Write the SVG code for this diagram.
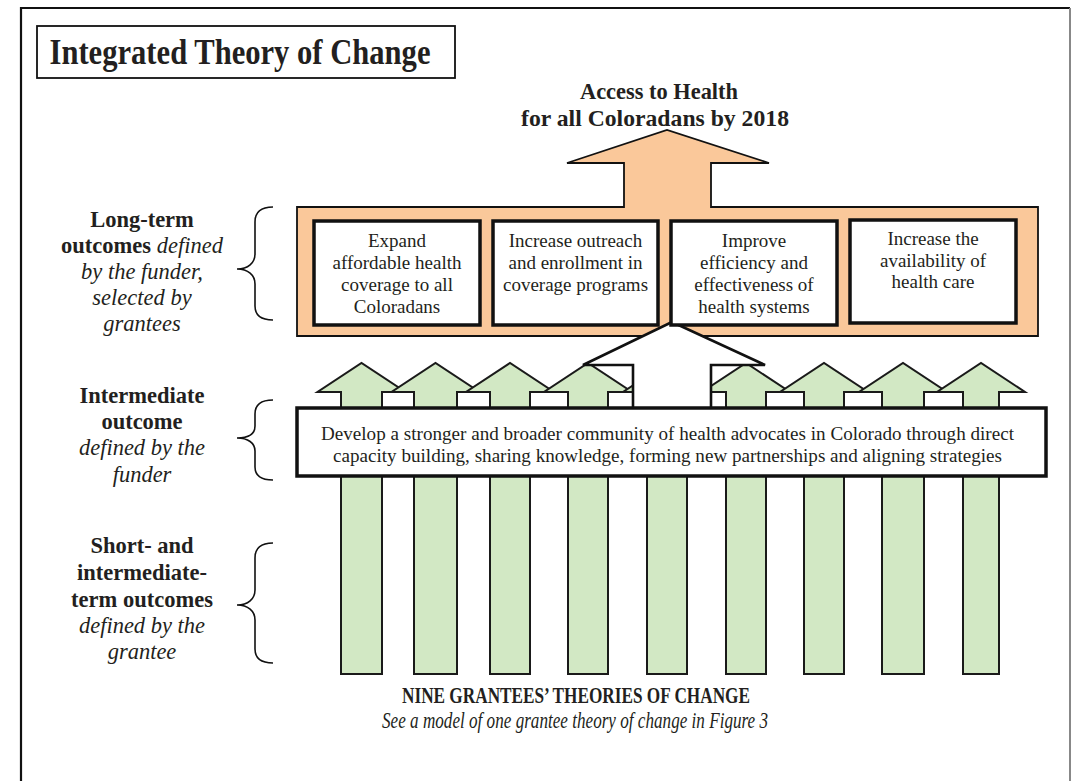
<svg xmlns="http://www.w3.org/2000/svg" width="1075" height="781" viewBox="0 0 1075 781">
<style>
text{font-family:"Liberation Serif","Times New Roman",serif;fill:#231f20}
.b{font-weight:bold}
.i{font-style:italic}
.lbl{font-size:22.5px;text-anchor:middle}
.bx{font-size:19px;text-anchor:middle}
.box{fill:#fff;stroke:#111;stroke-width:3.5}
.grn{fill:#d2e8c4;stroke:#1a1a1a;stroke-width:2}
.brace{fill:none;stroke:#111;stroke-width:1.6}
</style>
<rect x="0" y="0" width="1075" height="781" fill="#fff"/>
<g id="frame">
<path d="M21 781 L21 8 L1070 8" fill="none" stroke="#111" stroke-width="2.2"/>
<path d="M1070 8 L1070 781" fill="none" stroke="#888" stroke-width="2"/>
</g>
<g id="title">
<rect x="37" y="26" width="418" height="52" fill="#fff" stroke="#111" stroke-width="1.8"/>
<text x="240" y="63.5" class="b" font-size="35" text-anchor="middle" textLength="381" lengthAdjust="spacingAndGlyphs">Integrated Theory of Change</text>
</g>
<g id="goal">
<path d="M297 207 L624 207 L624 163 L567 163 L667 130 L769 163 L711 163 L711 207 L1038 207 L1038 336 L297 336 Z" fill="#fac89a" stroke="#111" stroke-width="1.8"/>
<text x="659" y="99" class="b" font-size="23" text-anchor="middle" textLength="158" lengthAdjust="spacingAndGlyphs">Access to Health</text>
<text x="655" y="126" class="b" font-size="23" text-anchor="middle" textLength="268" lengthAdjust="spacingAndGlyphs">for all Coloradans by 2018</text>
</g>
<g id="grantee-arrows">
<polygon class="grn" points="341,674 341,392 317.5,392 361.5,363 405.5,392 382,392 382,674"/>
<polygon class="grn" points="414,674 414,392 391.5,392 435.5,363 479.5,392 457,392 457,674"/>
<polygon class="grn" points="490,674 490,392 466,392 510,363 554,392 530,392 530,674"/>
<polygon class="grn" points="568,674 568,392 544,392 588,363 632,392 608,392 608,674"/>
<polygon class="grn" points="647,674 647,392 623,392 667,363 711,392 687,392 687,674"/>
<polygon class="grn" points="726,674 726,392 702,392 746,363 790,392 766,392 766,674"/>
<polygon class="grn" points="804,674 804,392 780,392 824,363 868,392 844,392 844,674"/>
<polygon class="grn" points="882,674 882,392 859,392 903,363 947,392 924,392 924,674"/>
<polygon class="grn" points="963,674 963,392 937,392 981,363 1025,392 999,392 999,674"/>
</g>
<g id="connectors">
<path d="M633 408 L633 365 L583 365 L672 322 L765 365 L711 365 L711 408" fill="#fff" stroke="#111" stroke-width="2.6" stroke-linejoin="miter"/>
<path class="brace" d="M273,207 C262,207 255,211 255,222 L255,254 C255,263 248,269 237,269 C248,269 255,275 255,284 L255,306 C255,316 262,320 273,320"/>
<path class="brace" d="M273,400 C262,400 255,404 255,414 L255,426 C255,434 248,438 237,438 C248,438 255,443 255,451 L255,467 C255,476 262,480 273,480"/>
<path class="brace" d="M273,543 C262,543 255,547 255,558 L255,590 C255,599 248,605 237,605 C248,605 255,611 255,620 L255,649 C255,659 262,663 273,663"/>
</g>
<g id="lt-1">
<rect class="box" x="314" y="221" width="166" height="104"/>
<text class="bx" x="397" y="247">Expand</text>
<text class="bx" x="397" y="269">affordable health</text>
<text class="bx" x="397" y="291">coverage to all</text>
<text class="bx" x="397" y="313">Coloradans</text>
</g>
<g id="lt-2">
<rect class="box" x="493" y="221" width="165" height="104"/>
<text class="bx" x="575.5" y="247">Increase outreach</text>
<text class="bx" x="575.5" y="269">and enrollment in</text>
<text class="bx" x="575.5" y="291">coverage programs</text>
</g>
<g id="lt-3">
<rect class="box" x="671" y="221" width="166" height="104"/>
<text class="bx" x="754" y="247">Improve</text>
<text class="bx" x="754" y="269">efficiency and</text>
<text class="bx" x="754" y="291">effectiveness of</text>
<text class="bx" x="754" y="313">health systems</text>
</g>
<g id="lt-4">
<rect class="box" x="850" y="220" width="166" height="103"/>
<text class="bx" x="933" y="245">Increase the</text>
<text class="bx" x="933" y="267">availability of</text>
<text class="bx" x="933" y="288">health care</text>
</g>
<g id="intermediate">
<rect class="box" x="297" y="408" width="749" height="68"/>
<text x="667.5" y="440" font-size="19.5" text-anchor="middle" textLength="693" lengthAdjust="spacingAndGlyphs">Develop a stronger and broader community of health advocates in Colorado through direct</text>
<text x="667.5" y="462" font-size="19.5" text-anchor="middle" textLength="669" lengthAdjust="spacingAndGlyphs">capacity building, sharing knowledge, forming new partnerships and aligning strategies</text>
</g>
<g id="label-long">
<text class="lbl b" x="142" y="227">Long-term</text>
<text class="lbl" x="142" y="253"><tspan class="b">outcomes </tspan><tspan class="i">defined</tspan></text>
<text class="lbl i" x="142" y="279">by the funder,</text>
<text class="lbl i" x="142" y="305">selected by</text>
<text class="lbl i" x="142" y="331">grantees</text>
</g>
<g id="label-intermediate">
<text class="lbl b" x="142" y="403">Intermediate</text>
<text class="lbl b" x="142" y="429">outcome</text>
<text class="lbl i" x="142" y="455">defined by the</text>
<text class="lbl i" x="142" y="482">funder</text>
</g>
<g id="label-short">
<text class="lbl b" x="142" y="553">Short- and</text>
<text class="lbl b" x="142" y="580">intermediate-</text>
<text class="lbl b" x="142" y="607">term outcomes</text>
<text class="lbl i" x="142" y="633">defined by the</text>
<text class="lbl i" x="142" y="659">grantee</text>
</g>
<g id="footer">
<text x="576" y="703" class="b" font-size="23" text-anchor="middle" textLength="348" lengthAdjust="spacingAndGlyphs">NINE GRANTEES’ THEORIES OF CHANGE</text>
<text x="575" y="728" class="i" font-size="23" text-anchor="middle" textLength="386" lengthAdjust="spacingAndGlyphs">See a model of one grantee theory of change in Figure 3</text>
</g>
</svg>
